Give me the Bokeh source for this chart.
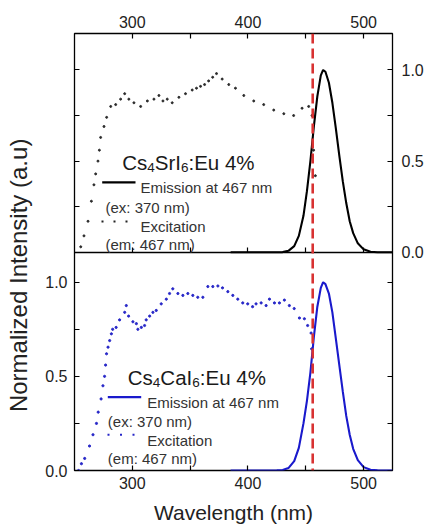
import math
from bokeh.plotting import figure
from bokeh.models import (Range1d, LinearAxis, FixedTicker, Span, Label,
                          BoxAnnotation, PrintfTickFormatter, Grid)
from bokeh.embed import file_html
from bokeh.resources import INLINE

# ---------------- data ----------------
em_wl = [385, 400, 415, 425, 430, 435, 440, 444, 448, 451, 454, 457, 460, 463,
         465, 467, 470, 473, 476, 479, 482, 485, 488, 491, 495, 500, 506, 512, 525]
em_sr = [0, 0, 0, 0, 0.001, 0.008, 0.034, 0.09, 0.20, 0.335, 0.50, 0.69, 0.855, 0.97,
         1.0, 0.99, 0.93, 0.82, 0.68, 0.53, 0.39, 0.27, 0.17, 0.105, 0.049, 0.016, 0.003, 0, 0]
em_ca = [0, 0, 0, 0.001, 0.003, 0.013, 0.05, 0.12, 0.25, 0.37, 0.52, 0.71, 0.87, 0.97,
         1.0, 0.99, 0.94, 0.84, 0.70, 0.56, 0.42, 0.29, 0.19, 0.115, 0.055, 0.018, 0.004, 0.001, 0]

ex_sr_wl = [255.4, 258.2, 261.7, 264.6, 266.8, 268.3, 270.3, 271.5, 272.6, 275.5,
            277.8, 281.3, 285.6, 289.9, 293.4, 297.0, 301.4, 307.2, 313.0, 318.7,
            323.0, 326.5, 330.2, 334.5, 340.3, 346.0, 351.8, 355.5, 359.0, 362.5,
            366.0, 369.5, 372.8, 377.7, 383.4, 389.2, 396.4, 405.0, 413.6, 422.3,
            431.0, 439.5, 446.8, 452.5, 455.4, 456.8, 458.3]
ex_sr = [0.03, 0.09, 0.17, 0.28, 0.37, 0.43, 0.50, 0.56, 0.63, 0.69,
         0.74, 0.80, 0.81, 0.84, 0.87, 0.84, 0.82, 0.80, 0.83, 0.84,
         0.86, 0.83, 0.84, 0.82, 0.85, 0.87, 0.89, 0.90, 0.91, 0.92,
         0.94, 0.96, 0.98, 0.95, 0.92, 0.90, 0.86, 0.83, 0.81, 0.78,
         0.76, 0.75, 0.79, 0.80, 0.75, 0.56, 0.42]

ex_ca_wl = [253.5, 256, 258.8, 263, 266, 269, 270.5, 273, 274.6, 276,
            276.9, 277.7, 279, 280.4, 281.9, 283, 286, 289, 293.4, 294.8,
            296.8, 300.5, 303.5, 304.8, 307.8, 310.6, 312, 315, 317.8, 320.7,
            325, 329.4, 332.2, 335, 339.4, 343.7, 348, 352.3, 356.6, 361,
            365.3, 369.6, 374, 378, 382.6, 386.9, 391.2, 395.5, 399.8, 404,
            407, 411.4, 415.7, 418.6, 422.9, 427.2, 431.5, 435.8, 440, 444.5,
            448.8, 451.6, 454.6, 455.1]
ex_ca = [0.0, 0.036, 0.064, 0.13, 0.19, 0.25, 0.31, 0.38, 0.45, 0.50,
         0.56, 0.62, 0.655, 0.69, 0.726, 0.75, 0.76, 0.80, 0.84, 0.876,
         0.82, 0.79, 0.78, 0.75, 0.76, 0.77, 0.80, 0.82, 0.84, 0.85,
         0.885, 0.91, 0.94, 0.965, 0.94, 0.93, 0.94, 0.93, 0.92, 0.92,
         0.977, 0.977, 0.98, 0.97, 0.95, 0.93, 0.91, 0.89, 0.885, 0.87,
         0.885, 0.89, 0.876, 0.91, 0.89, 0.89, 0.905, 0.876, 0.86, 0.81,
         0.806, 0.77, 0.73, 0.646]

ref_wl = 456
x_ticks = [300, 400, 500]
x_minor = [350, 450]
x_all = [300, 350, 400, 450, 500]
y_ticks = [0.0, 0.5, 1.0]
y_minor = [0.25, 0.75]
y_all = [0.0, 0.25, 0.5, 0.75, 1.0]

# ---------------- figure ----------------
FONT = "Liberation Sans"
FL, FB = 74, 470  # frame left / bottom in page px

p = figure(width=426, height=529, output_backend="svg", toolbar_location=None,
           x_range=Range1d(250, 525), y_range=Range1d(0, 2.321),
           x_axis_location=None, y_axis_location=None,
           min_border_left=74, min_border_right=34, min_border_top=33,
           min_border_bottom=59)
p.extra_y_ranges = {"top": Range1d(-1.197, 1.2)}
for g in p.select(type=Grid):
    g.visible = False
p.outline_line_color = "black"
p.outline_line_width = 1.3
p.background_fill_color = "white"
p.border_fill_color = "white"


def make_axis(ticks, minor, fmt, **kw):
    ax = LinearAxis(ticker=FixedTicker(ticks=ticks, minor_ticks=minor),
                    formatter=PrintfTickFormatter(format=fmt), **kw)
    ax.axis_line_color = None
    ax.major_tick_in = 5
    ax.major_tick_out = 0
    ax.minor_tick_in = 5
    ax.minor_tick_out = 0
    ax.major_tick_line_color = "black"
    ax.minor_tick_line_color = "black"
    ax.major_tick_line_width = 1.2
    ax.minor_tick_line_width = 1.2
    ax.major_label_text_font = FONT
    ax.major_label_text_font_size = "16px"
    ax.major_label_text_color = "#222222"
    return ax


ax_below = make_axis(x_ticks, x_minor, "%d")
ax_below.major_label_standoff = 6
ax_below.axis_label = "Wavelength (nm)"
ax_below.axis_label_text_font = FONT
ax_below.axis_label_text_font_size = "21px"
ax_below.axis_label_text_font_style = "normal"
ax_below.axis_label_text_color = "#222222"
ax_below.axis_label_standoff = 9
p.add_layout(ax_below, "below")

ax_above = make_axis(x_ticks, x_minor, "%d")
ax_above.major_label_standoff = 6
p.add_layout(ax_above, "above")

NB = "\u00a0"
ax_left = make_axis(y_ticks, y_minor, "%.1f")
ax_left.major_label_standoff = 7
ax_left.axis_label = "Normalized Intensity (a.u)" + NB * 7
ax_left.axis_label_text_font = FONT
ax_left.axis_label_text_font_size = "24px"
ax_left.axis_label_text_font_style = "normal"
ax_left.axis_label_text_color = "#222222"
ax_left.axis_label_standoff = 10
p.add_layout(ax_left, "left")

ax_right = make_axis(y_ticks, y_minor, "%.1f", y_range_name="top")
ax_right.major_label_standoff = 9
p.add_layout(ax_right, "right")

# mirrored / separator axes: fixed locations, minor ticks only (no labels)
ax_mid = make_axis([], x_all, "%d", y_range_name="top", fixed_location=0)
ax_mid.axis_line_color = "black"
ax_mid.axis_line_width = 1.3
p.add_layout(ax_mid, "below")

ax_left_top = make_axis([], y_all, "%.1f", y_range_name="top", fixed_location=250)
p.add_layout(ax_left_top, "left")

ax_right_bot = make_axis([], y_all, "%.1f", fixed_location=525)
p.add_layout(ax_right_bot, "right")

# ---------------- data glyphs ----------------
BLUE = "#1a1acc"
p.scatter(ex_sr_wl, ex_sr, y_range_name="top", size=2.0, color="#2a2a2a",
          marker="circle")
p.scatter(ex_ca_wl, ex_ca, size=2.2, color="#2626c8", marker="circle")
p.line(em_wl, em_sr, y_range_name="top", line_color="black", line_width=2.1)
p.line(em_wl, em_ca, line_color=BLUE, line_width=2.1)

p.add_layout(Span(location=ref_wl, dimension="height", line_color="#d83232",
                  line_width=2.6, line_dash="10 5"))


# ---------------- annotations ----------------
def sx(px):
    return px - FL


def sy(py):
    return FB - py


def text(px, py, s, size, color="#333333"):
    p.add_layout(Label(x=sx(px), y=sy(py), x_units="screen", y_units="screen",
                       text=s, text_font=FONT, text_font_size=size,
                       text_color=color, text_baseline="alphabetic",
                       text_align="left"))


def formula(px, py, parts):
    main, sub = 20.5, 13.5
    x = px
    for s, w_em, is_sub in parts:
        if is_sub:
            text(x, py + 5, s, "%gpx" % sub, "#1a1a1a")
            x += w_em * sub
        else:
            text(x, py, s, "%gpx" % main, "#1a1a1a")
            x += w_em * main


formula(121.7, 162, [("Cs", 1.222, False), ("4", 0.556, True), ("SrI", 1.278, False),
                     ("6", 0.556, True), (":Eu 4%", 3.224, False)])
formula(127.3, 377.3, [("Cs", 1.222, False), ("4", 0.556, True), ("CaI", 1.556, False),
                       ("6", 0.556, True), (":Eu 4%", 3.224, False)])


def box(x0, x1, y0, y1, color):
    p.add_layout(BoxAnnotation(left=sx(x0), right=sx(x1), top=sy(y0), bottom=sy(y1),
                               left_units="screen", right_units="screen",
                               top_units="screen", bottom_units="screen",
                               fill_color=color, fill_alpha=1.0, line_color=None))


# legend top panel
box(101.7, 135, 180.7, 182.9, "black")
for dx in (102, 114, 126):
    box(dx - 1.0, dx + 1.0, 220, 222, "#222222")
text(140, 187, "Emission at 467 nm", "15px")
text(105, 206.5, "(ex: 370 nm)", "15px")
text(140, 225.5, "Excitation", "15px")
text(105, 244, "(em: 467 nm)", "15px")

# legend bottom panel
box(107.3, 140.7, 395.6, 397.8, BLUE)
for dx in (108, 120.5, 133):
    box(dx - 1.0, dx + 1.0, 433.3, 435.3, "#2626c8")
text(146.7, 402, "Emission at 467 nm", "15px")
text(107.3, 421, "(ex: 370 nm)", "15px")
text(146.7, 440, "Excitation", "15px")
text(107.3, 458, "(em: 467 nm)", "15px")

open("out.html", "w").write(file_html(p, INLINE))
